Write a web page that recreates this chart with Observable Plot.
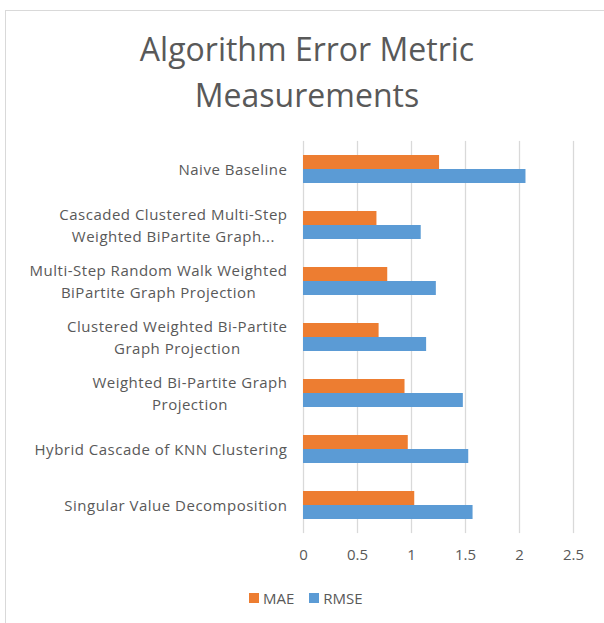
<!DOCTYPE html>
<html><head><meta charset="utf-8">
<script src="https://cdn.jsdelivr.net/npm/d3@7"></script>
<script src="https://cdn.jsdelivr.net/npm/@observablehq/plot@0.6"></script>
<style>
body{margin:0;background:#fff;font-family:"Open Sans",sans-serif;overflow:hidden;width:604px;height:623px;position:relative}
#frame{position:absolute;left:5px;top:10px;width:660px;height:660px;border:1px solid #d9d9d9;box-sizing:border-box}
#title{position:absolute;left:0;width:614px;top:26px;text-align:center;font-size:32px;line-height:46px;color:#595959}
#chart{position:absolute;left:0;top:120px}
#legend{position:absolute;top:588px;left:249px;font-size:15px;color:#595959;display:flex;align-items:center;white-space:nowrap}
#legend .sw{display:inline-block;width:10px;height:10px;margin-right:4px}
#legend .item{display:flex;align-items:center;margin-right:15px}
</style>
</head><body>
<div id="frame"></div>
<div id="title">Algorithm Error Metric<br>Measurements</div>
<div id="chart"></div>
<div id="legend"></div>
<script>
const categories = [
  "Naive Baseline",
  "Cascaded Clustered Multi-Step Weighted BiPartite Graph...",
  "Multi-Step Random Walk Weighted BiPartite Graph Projection",
  "Clustered Weighted Bi-Partite Graph Projection",
  "Weighted Bi-Partite Graph Projection",
  "Hybrid Cascade of KNN Clustering",
  "Singular Value Decomposition"
];
const labelLines = [
  "Naive Baseline",
  "Cascaded Clustered Multi-Step\nWeighted BiPartite Graph...",
  "Multi-Step Random Walk Weighted\nBiPartite Graph Projection",
  "Clustered Weighted Bi-Partite\nGraph Projection",
  "Weighted Bi-Partite Graph\nProjection",
  "Hybrid Cascade of KNN Clustering",
  "Singular Value Decomposition"
];
const maeValues  = [1.26, 0.68, 0.78, 0.70, 0.94, 0.97, 1.03];
const rmseValues = [2.06, 1.09, 1.23, 1.14, 1.48, 1.53, 1.57];
const seriesNames = ["MAE", "RMSE"];
const seriesColors = ["#ED7D31", "#5B9BD5"];
const xTicks = [0, 0.5, 1, 1.5, 2, 2.5];

const rows = categories.flatMap((c, i) => [
  {category: c, series: seriesNames[0], value: maeValues[i]},
  {category: c, series: seriesNames[1], value: rmseValues[i]}
]);

const plot = Plot.plot({
  width: 604, height: 449,
  marginTop: 20, marginBottom: 35, marginLeft: 303, marginRight: 31,
  style: {fontFamily: "'Open Sans', sans-serif", fontSize: "15px", color: "#595959", background: "transparent", overflow: "visible"},
  x: {domain: [0, 2.5], ticks: xTicks, tickSize: 0, tickPadding: 30, label: null, tickFormat: d => String(d)},
  y: {domain: seriesNames, axis: null, padding: 0},
  fy: {domain: categories, axis: null, paddingInner: 0.5, paddingOuter: 0.25},
  color: {domain: seriesNames, range: seriesColors},
  marks: [
    // gridlines drawn in each facet, extended across the gaps between facets
    Plot.ruleX(xTicks, {stroke: "#d9d9d9", strokeWidth: 1.3, insetTop: -14.1, insetBottom: -14.1}),
    Plot.barX(rows, {x: "value", y: "series", fy: "category", fill: "series"}),
    Plot.text(categories, {fy: d => d, text: (d, i) => labelLines[i], frameAnchor: "left", textAnchor: "end", dx: -16, dy: -2, lineHeight: 1.47, fill: "#595959", fontSize: 15})
  ]
});
document.getElementById("chart").appendChild(plot);
plot.querySelectorAll('g[aria-label="text"] text').forEach(t => t.style.letterSpacing = "0.5px");

// center the lines of each label within its right-aligned block
plot.querySelectorAll('g[aria-label="text"] text').forEach(t => {
  const w = t.getBBox().width;
  t.setAttribute("text-anchor", "middle");
  const tr = t.getAttribute("transform") || "";
  t.setAttribute("transform", tr + ` translate(${-w / 2},0)`);
});

const legend = document.getElementById("legend");
seriesNames.forEach((s, i) => {
  const item = document.createElement("span");
  item.className = "item";
  const sw = document.createElement("span");
  sw.className = "sw";
  sw.style.background = seriesColors[i];
  item.appendChild(sw);
  item.appendChild(document.createTextNode(s));
  legend.appendChild(item);
});
</script>
</body></html>
